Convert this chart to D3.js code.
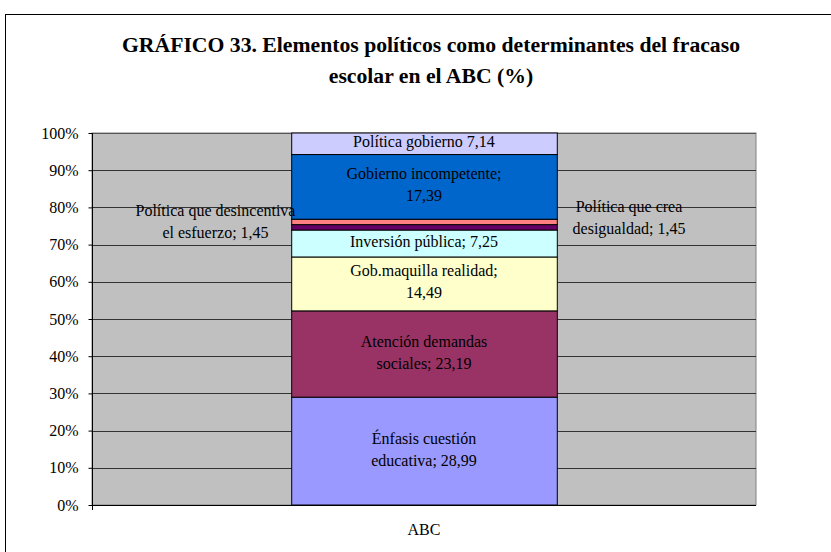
<!DOCTYPE html>
<html>
<head>
<meta charset="utf-8">
<script src="https://cdn.jsdelivr.net/npm/d3@7/dist/d3.min.js"></script>
</head>
<body style="margin:0;background:#fff">
<svg id="chart" width="831" height="552"></svg>
<script>
// Stacked series (percent), bottom to top
const categories = ["ABC"];
const seriesNames = [
  "Énfasis cuestión educativa",
  "Atención demandas sociales",
  "Gob.maquilla realidad",
  "Inversión pública",
  "Política que desincentiva el esfuerzo",
  "Política que crea desigualdad",
  "Gobierno incompetente",
  "Política gobierno"
];
const seriesValues = [28.99, 23.19, 14.49, 7.25, 1.45, 1.45, 17.39, 7.14];
const seriesColors = ["#9999FF", "#993366", "#FFFFCC", "#CCFFFF", "#660066", "#FF8080", "#0066CC", "#CCCCFF"];
// Label text lines for each segment
const labelLines = [
  ["Énfasis cuestión", "educativa; 28,99"],
  ["Atención demandas", "sociales; 23,19"],
  ["Gob.maquilla realidad;", "14,49"],
  ["Inversión pública; 7,25"],
  ["Política que desincentiva", "el esfuerzo; 1,45"],
  ["Política que crea", "desigualdad; 1,45"],
  ["Gobierno incompetente;", "17,39"],
  ["Política gobierno 7,14"]
];
const tickValues = [0, 10, 20, 30, 40, 50, 60, 70, 80, 90, 100];
const titleLines = ["GRÁFICO 33. Elementos políticos como determinantes del fracaso", "escolar en el ABC (%)"];

const FONT = "'Liberation Serif', 'Times New Roman'";
const svg = d3.select("#chart");

// Outer chart frame
svg.append("rect")
  .attr("x", 5.5).attr("y", 14.5)
  .attr("width", 900).attr("height", 600)
  .attr("fill", "#fff").attr("stroke", "#000").attr("stroke-width", 1);

// Title
svg.append("text")
  .attr("text-anchor", "middle")
  .attr("font-weight", "bold")
  .attr("font-size", 21.7)
  .selectAll("tspan").data(titleLines).join("tspan")
  .attr("x", 431)
  .attr("y", (d, i) => 52 + i * 31)
  .text(d => d);

const plot = { left: 92, right: 756, top: 133, bottom: 505 };

const stackRows = [Object.fromEntries(seriesNames.map((n, i) => [n, seriesValues[i]]))];
const stacked = d3.stack().keys(seriesNames)(stackRows);

// Axis stops at 100%; anything stacked beyond is cut off at the top
const y = d3.scaleLinear().domain([0, 100]).range([plot.bottom, plot.top]).clamp(true);
const x = d3.scaleBand().domain(categories).range([plot.left, plot.right]).paddingInner(0).paddingOuter(0.75);

// Plot background
svg.append("rect")
  .attr("x", plot.left).attr("y", plot.top)
  .attr("width", plot.right - plot.left).attr("height", plot.bottom - plot.top)
  .attr("fill", "#C0C0C0").attr("stroke", "#808080").attr("stroke-width", 1);

// Gridlines
svg.append("g")
  .selectAll("line").data(tickValues.filter(t => t > 0 && t < 100)).join("line")
  .attr("x1", plot.left).attr("x2", plot.right)
  .attr("y1", d => Math.round(y(d)) + 0.5).attr("y2", d => Math.round(y(d)) + 0.5)
  .attr("stroke", "#333").attr("stroke-width", 1);
svg.append("line")
  .attr("x1", plot.left).attr("x2", plot.right)
  .attr("y1", plot.top + 0.5).attr("y2", plot.top + 0.5)
  .attr("stroke", "#555");

// Bars
svg.append("g").selectAll("rect").data(stacked).join("rect")
  .attr("x", x("ABC") + 0.5)
  .attr("width", x.bandwidth())
  .attr("y", d => y(d[0][1]))
  .attr("height", d => y(d[0][0]) - y(d[0][1]))
  .attr("fill", (d, i) => seriesColors[i])
  .attr("stroke", "#000").attr("stroke-width", 1);

// Y axis
const yAxis = d3.axisLeft(y).tickValues(tickValues).tickFormat(d => d + "%").tickSize(4).tickPadding(10);
const ya = svg.append("g").attr("transform", `translate(${plot.left + 0.5},0)`).call(yAxis);
ya.attr("font-size", 16);
ya.select(".domain").attr("stroke", "#000").attr("d", `M0,${plot.top}V${plot.bottom + 5}`);
ya.selectAll(".tick line").attr("stroke", "#000");
ya.selectAll(".tick text").attr("fill", "#000");

// X axis baseline
svg.append("line")
  .attr("x1", plot.left).attr("x2", plot.right)
  .attr("y1", plot.bottom + 0.5).attr("y2", plot.bottom + 0.5)
  .attr("stroke", "#000");

svg.append("text")
  .attr("x", x("ABC") + x.bandwidth() / 2)
  .attr("y", 535)
  .attr("text-anchor", "middle")
  .attr("font-size", 16)
  .text(categories[0]);

// Segment labels; the two thin slices are labeled beside the bar
const labelG = svg.append("g").attr("font-size", 16).attr("fill", "#000").attr("text-anchor", "middle");
const lineH = 22;
stacked.forEach((s, i) => {
  const mid = (y(s[0][0]) + y(s[0][1])) / 2;
  let cx = x("ABC") + x.bandwidth() / 2;
  let cy = mid - 2;
  if (i === 4) { cx = 215.5; cy = mid - 6; }
  if (i === 5) { cx = 629; cy = mid - 4; }
  const lines = labelLines[i];
  const t = labelG.append("text");
  lines.forEach((ln, j) => {
    t.append("tspan")
      .attr("x", cx)
      .attr("y", cy + (j - (lines.length - 1) / 2) * lineH + 5.5)
      .text(ln);
  });
});

// Serif face for every text element
svg.selectAll("text").style("font-family", FONT);
</script>
</body>
</html>
